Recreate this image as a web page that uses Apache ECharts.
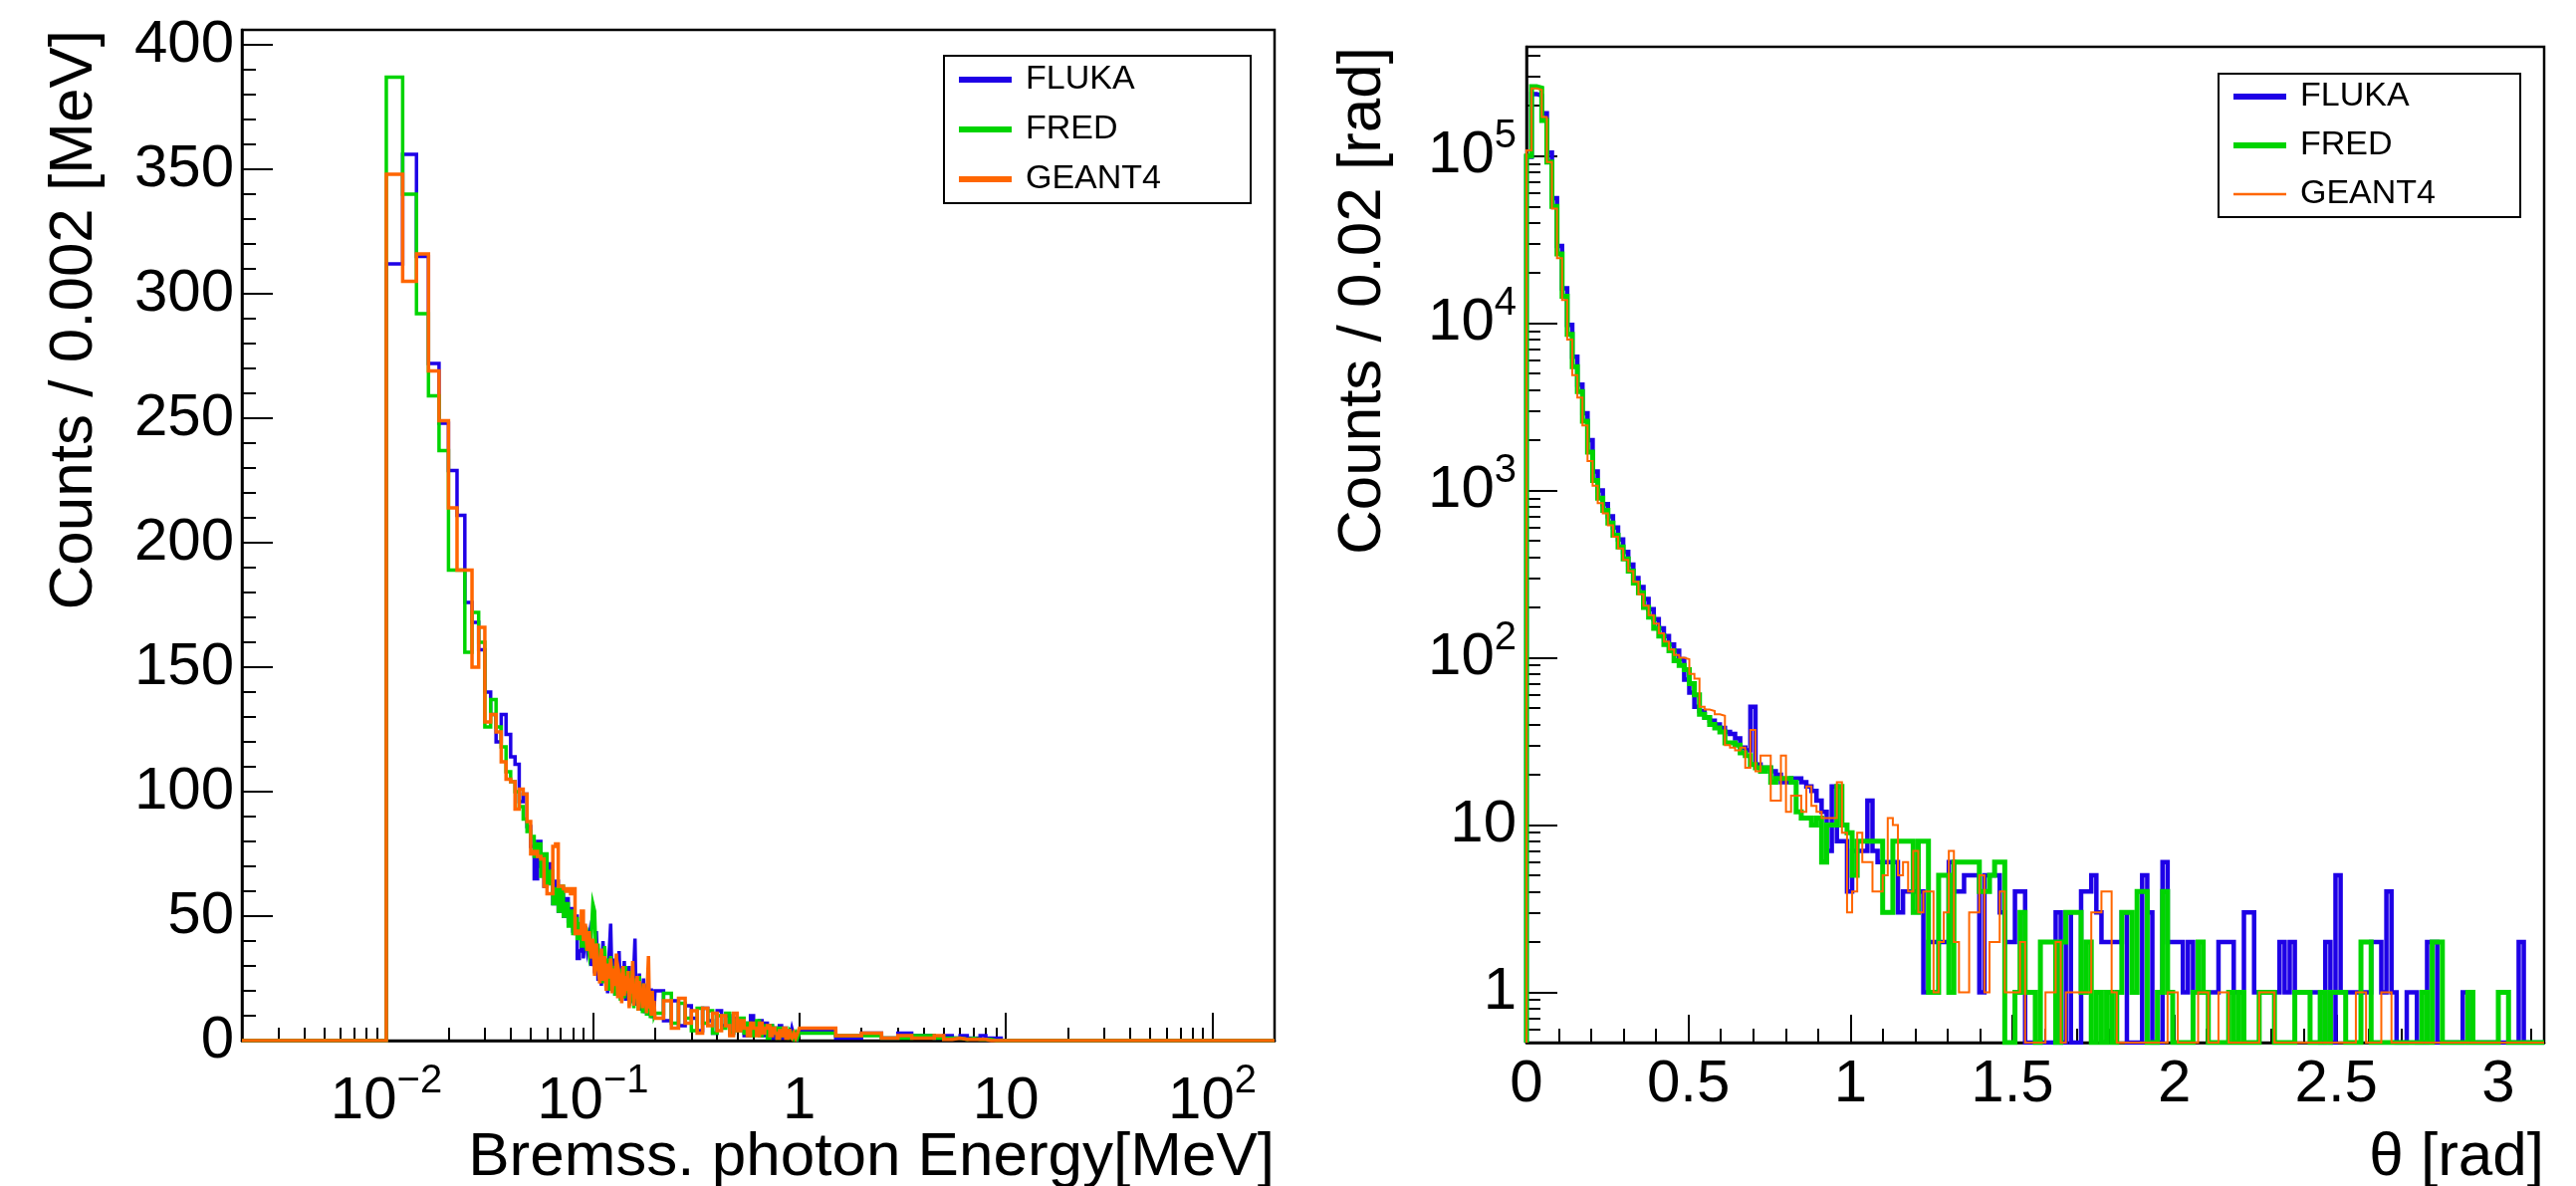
<!DOCTYPE html>
<html>
<head>
<meta charset="utf-8">
<title>Bremsstrahlung photons: energy and angle</title>
<script src="https://cdn.jsdelivr.net/npm/echarts@6/dist/echarts.min.js"></script>
<style>
html, body { margin: 0; padding: 0; background: #fff; }
#main { width: 2587px; height: 1191px; }
</style>
</head>
<body>
<div id="main"></div>
<script>
// energy spectrum, bins of 0.002 MeV from 0.010 to 0.200
var eFineStart = 0.010, eFineWidth = 0.002;
var flukaE = [312,356,315,272,248,229,211,176,168,157, 140,131,120,131,123,114,111,96,99,86,
  78,65,80,70,62,71,66,55,64,52, 61,50,57,48,53,44,50,33,36,45, 33,46,37,42,30,38,27,44,24,36,
  22,40,26,31,19,35,47,21,33,18, 30,24,36,17,28,21,32,16,27,22, 30,15,26,19,29,41,14,24,18,27,
  12,22,17,25,11,20,15,23,10,19, 14,21,9,17,12];
var fredE = [387,340,292,259,237,189,189,156,172,160, 126,137,126,118,108,104,100,94,89,84,
  82,74,79,66,75,63,68,55,61,52, 62,50,55,46,52,43,49,41,47,38, 44,39,42,35,40,55,52,28,39,25,
  36,23,38,27,33,20,34,25,30,18, 32,21,27,16,29,24,17,30,19,26, 14,28,20,23,13,25,18,22,12,26,
  16,20,11,23,15,18,10,21,14,17, 9,19,13,16,10];
var geantE = [348,305,316,269,249,214,189,189,150,166, 128,131,124,112,105,104,93,101,99,88,
  75,76,74,73,62,59,59,78,79,62, 62,61,60,61,59,61,43,44,43,52, 40,47,36,44,33,41,26,39,30,23,
  37,24,34,20,31,25,33,19,29,22, 35,17,27,24,15,30,18,26,20,28, 13,25,19,32,14,22,17,26,12,24,
  16,21,13,23,15,19,11,24,34,13, 18,10,20,12,16];
// tail 0.2 - 1.0 MeV (0.02 bins) and 1 - 10 MeV (0.5 bins)
var flukaETail1 = [20,8,16,6,14,9,4,13,8,3, 12,6,10,3,9,5,8,2,7,10, 3,6,8,2,7,4,6,1,5,3, 6,1,5,2,4,1,5,2,3,1];
var fredETail1 = [11,19,7,15,9,4,13,7,12,3, 10,5,11,3,8,4,9,3,7,2, 6,8,2,6,4,1,6,3,5,1, 5,2,4,2,1,4,3,1,3,1];
var geantETail1 = [9,16,5,17,7,12,3,13,6,11, 4,10,6,2,11,4,8,5,2,7, 5,2,7,3,5,6,2,5,3,1, 4,2,5,1,4,2,1,3,1,3];
var flukaETail2 = [4,1,3,1,3,2,2,1,2,1, 2,1,1,2,1,1,1,0];
var fredETail2 = [3,2,2,1,1,2,2,1,1,1, 0.5,1,0.5,0.5,0.5,0,0,0];
var geantETail2 = [5,2,3,1,2,1,1,2,0.5,1, 0.5,0.5,0.5,0.5,0,0,0,0];

// polar angle, 200 bins over [0, pi]
var thetaBins = 200;
var flukaTheta = [99000,235000,230000,180000,105000,56000,29000,16200,9800,6300,
  4300,2900,2000,1300,1000,830,700,600,510,430, 360,300,265,225,195,170,150,135,120,110,
  98,74,62,51,48,44,42,40,38,36, 35,33,29,28,51,23,22,22,21,20, 18,18,19,19,18,17,16,14,12,7,
  17,8,8,4,7,7,7,14,7,6, 6,6,6,3,4,4,4,4,1,2, 2,2,2,6,4,4,5,5,5,1,
  5,5,5,3,2,2,4,4,0,0, 0,0,0,0,3,0,3,0,0,4, 4,5,3,2,2,2,2,3,0,0,
  0,5,3,0,0,6,2,2,2,1, 2,1,1,1,1,1,2,2,2,1, 1,3,3,1,1,1,1,1,2,1,
  2,1,1,1,1,1,0,2,0,5, 1,1,1,1,1,1,2,2,1,4, 1,0,0,1,1,0,0,2,2,0,
  0,0,0,0,1,0,0,0,0,0, 0,0,0,0,0,2,0,0,0,0];
var fredTheta = [100000,260000,255000,163000,92000,50000,26000,14500,8600,5500,
  3900,2600,1700,1150,900,760,640,540,460,390, 330,280,245,200,175,150,135,120,110,96,
  90,85,70,60,46,44,40,38,36,31, 31,30,27,26,23,22,21,22,18,19, 19,19,18,12,11,11,10,11,6,10,
  10,17,10,9,5,8,8,8,8,8, 3,3,8,8,8,8,3,8,8,1, 1,5,5,1,6,6,6,6,6,4,
  4,5,6,6,0,0,1,3,1,1, 0,2,2,2,0,2,3,3,3,1, 2,0,1,0,1,0,1,3,3,1,
  4,4,0,0,1,4,1,0,0,0, 0,1,2,1,0,0,0,0,1,0, 1,0,0,0,1,1,1,0,0,0,
  0,1,1,1,0,0,1,0,1,1, 1,0,0,0,2,2,0,0,0,0, 0,0,0,0,0,0,1,0,2,2,
  0,0,0,0,0,1,0,0,0,0, 0,1,1,0,0,0,0,0,0,0];
var geantTheta = [108000,254000,249000,171000,92000,48500,24500,13800,8000,4900,
  3600,2450,1500,1070,840,730,620,530,450,385, 330,285,240,205,180,160,140,125,112,104,
  100,98,80,75,51,49,48,46,45,30, 29,28,29,22,37,21,26,26,14,14, 26,12,15,15,12,17,13,12,11,11,
  11,18,9,3,4,9,6,6,4,4, 5,11,10,5,6,4,7,3,4,4, 1,2,3,7,2,1,1,3,3,5,
  1,2,2,4,1,1,1,2,0,0, 0,0,1,1,2,0,1,1,1,1, 1,3,3,4,4,1,0,0,0,0,
  0,0,0,0,0,0,1,1,0,0, 0,0,1,1,0,0,1,1,0,0, 0,0,0,0,1,1,1,0,0,0,
  0,0,0,0,0,0,0,0,0,0, 0,0,0,1,1,0,0,0,1,1, 0,0,0,0,0,0,0,0,0,0,
  0,0,0,0,0,0,0,0,0,0, 0,0,0,0,0,0,0,0,0,0];

var energyMajorTicks = [0.01, 0.1, 1, 10, 100];
var countsMajorTicks = [1, 10, 100, 1000, 10000, 100000];

var FONT = '"Liberation Sans", Arial, Helvetica, sans-serif';
var colors = { FLUKA: '#1e00e6', FRED: '#00d400', GEANT4: '#ff6600' };

function binEdges(start, width, n) {
  var e = [];
  for (var i = 0; i <= n; i++) e.push(+(start + i * width).toFixed(6));
  return e;
}
// 2..9 x each decade, strictly inside (lo, hi)
function minorLogTicks(lo, hi) {
  var t = [];
  for (var d = 1e-4; d < hi; d *= 10) {
    for (var m = 2; m <= 9; m++) {
      var v = +(m * d).toPrecision(6);
      if (v > lo && v < hi) t.push(v);
    }
  }
  return t;
}
function histLine(edges, values, floor) {
  var pts = [];
  for (var i = 0; i < values.length; i++) {
    var v = values[i] > floor ? values[i] : floor;
    pts.push([edges[i], v], [edges[i + 1], v]);
  }
  return pts;
}
function powLabel(v) {
  var e = Math.round(Math.log(v) / Math.LN10);
  if (e === 0) return '1';
  if (e === 1) return '10';
  return '10{sup|' + (e < 0 ? '\u2212' + (-e) : e) + '}';
}

var eEdges = binEdges(eFineStart, eFineWidth, flukaE.length)
  .concat(binEdges(0.2, 0.02, 40).slice(1), binEdges(1, 0.5, 18).slice(1));
function energySeries(fine, t1, t2) {
  var pts = histLine(eEdges, fine.concat(t1, t2), 0);
  return [[0.002, 0], [eFineStart, 0]].concat(pts, [[10, 0], [200, 0]]);
}
var thEdges = binEdges(0, Math.PI / thetaBins, thetaBins);
function thetaSeries(vals) {
  return [[0, 0.5]].concat(histLine(thEdges, vals, 0.5), [[Math.PI, 0.5]]);
}

var black = { color: '#000', width: 2 };
var labelBase = { color: '#000', fontFamily: FONT, fontSize: 60 };
var supRich = { sup: { fontSize: 40, lineHeight: 40, padding: [0, 0, 40, 0], verticalAlign: 'top', fontFamily: FONT, color: '#000' } };
var noSplit = { show: false };

function mkSeries(name, xi, yi, data, width) {
  return {
    type: 'line', name: name, xAxisIndex: xi, yAxisIndex: yi, data: data,
    symbol: 'none', clip: true, animation: false,
    lineStyle: { color: colors[name], width: width, join: 'miter' },
    itemStyle: { color: colors[name] }
  };
}

var myChart = echarts.init(document.getElementById('main'));
var option = {
  animation: false,
  backgroundColor: '#fff',
  grid: [
    { left: 243, top: 30, width: 1037, height: 1015, show: true, borderColor: '#000', borderWidth: 2.5, containLabel: false, outerBoundsMode: 'none' },
    { left: 1533, top: 47, width: 1022, height: 1000, show: true, borderColor: '#000', borderWidth: 2.5, containLabel: false, outerBoundsMode: 'none' }
  ],
  xAxis: [
    {
      type: 'log', gridIndex: 0, min: 0.002, max: 200, position: 'bottom',
      axisLine: { show: true, lineStyle: { color: '#000', width: 2.5 } },
      axisTick: { show: true, inside: true, length: 28, customValues: energyMajorTicks, lineStyle: black },
      axisLabel: Object.assign({ customValues: energyMajorTicks, formatter: powLabel, margin: 21, lineHeight: 80, rich: supRich }, labelBase),
      splitLine: noSplit, minorTick: { show: false }
    },
    {
      type: 'log', gridIndex: 0, min: 0.002, max: 200, position: 'bottom',
      axisLine: { show: false }, axisLabel: { show: false }, splitLine: noSplit,
      axisTick: { show: true, inside: true, length: 13, customValues: minorLogTicks(0.002, 200), lineStyle: black }
    },
    {
      type: 'value', gridIndex: 1, min: 0, max: Math.PI, interval: 0.5, position: 'bottom',
      axisLine: { show: true, lineStyle: { color: '#000', width: 2.5 } },
      axisTick: { show: true, inside: true, length: 28, lineStyle: black },
      minorTick: { show: true, splitNumber: 5, length: 14, lineStyle: black },
      axisLabel: Object.assign({ margin: 12, showMaxLabel: false }, labelBase),
      splitLine: noSplit
    }
  ],
  yAxis: [
    {
      type: 'value', gridIndex: 0, min: 0, max: 406, interval: 50,
      axisLine: { show: true, lineStyle: { color: '#000', width: 2.5 } },
      axisTick: { show: true, inside: true, length: 31, lineStyle: black },
      minorTick: { show: true, splitNumber: 5, length: 14, lineStyle: black },
      axisLabel: Object.assign({ margin: 8, showMaxLabel: false }, labelBase),
      splitLine: noSplit
    },
    {
      type: 'log', gridIndex: 1, min: 0.5, max: 4.5e5,
      axisLine: { show: true, lineStyle: { color: '#000', width: 2.5 } },
      axisTick: { show: true, inside: true, length: 31, customValues: countsMajorTicks, lineStyle: black },
      axisLabel: Object.assign({ customValues: countsMajorTicks, formatter: powLabel, margin: 10, lineHeight: 80, rich: supRich }, labelBase),
      splitLine: noSplit, minorTick: { show: false }
    },
    {
      type: 'log', gridIndex: 1, min: 0.5, max: 4.5e5, position: 'left',
      axisLine: { show: false }, axisLabel: { show: false }, splitLine: noSplit,
      axisTick: { show: true, inside: true, length: 14, customValues: minorLogTicks(0.5, 4.5e5), lineStyle: black }
    }
  ],
  legend: [
    {
      left: 948, top: 56, orient: 'vertical', selectedMode: false,
      data: ['FLUKA', 'FRED', 'GEANT4'],
      itemWidth: 53, itemHeight: 6, itemGap: 16, padding: [7, 90, 7, 12],
      borderColor: '#000', borderWidth: 2, backgroundColor: '#fff',
      lineStyle: { width: 6 }, itemStyle: { opacity: 0 },
      textStyle: { color: '#000', fontFamily: FONT, fontSize: 34, padding: [0, 0, 0, 9] }
    },
    {
      left: 2228, top: 74, orient: 'vertical', selectedMode: false,
      data: [{ name: 'FLUKA', lineStyle: { width: 6 } }, { name: 'FRED', lineStyle: { width: 6 } }, { name: 'GEANT4', lineStyle: { width: 2.5 } }],
      itemWidth: 53, itemHeight: 6, itemGap: 15, padding: [6, 85, 6, 12],
      borderColor: '#000', borderWidth: 2, backgroundColor: '#fff',
      itemStyle: { opacity: 0 },
      textStyle: { color: '#000', fontFamily: FONT, fontSize: 34, padding: [0, 0, 0, 9] }
    }
  ],
  graphic: [
    { type: 'text', x: 75, y: 30, rotation: Math.PI / 2, style: { text: 'Counts / 0.002 [MeV]', font: '62px ' + FONT, fill: '#000', align: 'right', verticalAlign: 'middle' } },
    { type: 'text', x: 1369, y: 47, rotation: Math.PI / 2, style: { text: 'Counts / 0.02 [rad]', font: '62px ' + FONT, fill: '#000', align: 'right', verticalAlign: 'middle' } },
    { type: 'text', x: 1280, y: 1163, style: { text: 'Bremss. photon Energy[MeV]', font: '62px ' + FONT, fill: '#000', align: 'right', verticalAlign: 'middle' } },
    { type: 'text', x: 2555, y: 1163, style: { text: '\u03b8 [rad]', font: '62px ' + FONT, fill: '#000', align: 'right', verticalAlign: 'middle' } }
  ],
  series: [
    mkSeries('FLUKA', 0, 0, energySeries(flukaE, flukaETail1, flukaETail2), 3.5),
    mkSeries('FRED', 0, 0, energySeries(fredE, fredETail1, fredETail2), 3.5),
    mkSeries('GEANT4', 0, 0, energySeries(geantE, geantETail1, geantETail2), 3.5),
    mkSeries('FLUKA', 2, 1, thetaSeries(flukaTheta), 4.5),
    mkSeries('FRED', 2, 1, thetaSeries(fredTheta), 5),
    mkSeries('GEANT4', 2, 1, thetaSeries(geantTheta), 2)
  ]
};
myChart.setOption(option);
window.onresize = function () {
  myChart.resize();
};
</script>
</body>
</html>
